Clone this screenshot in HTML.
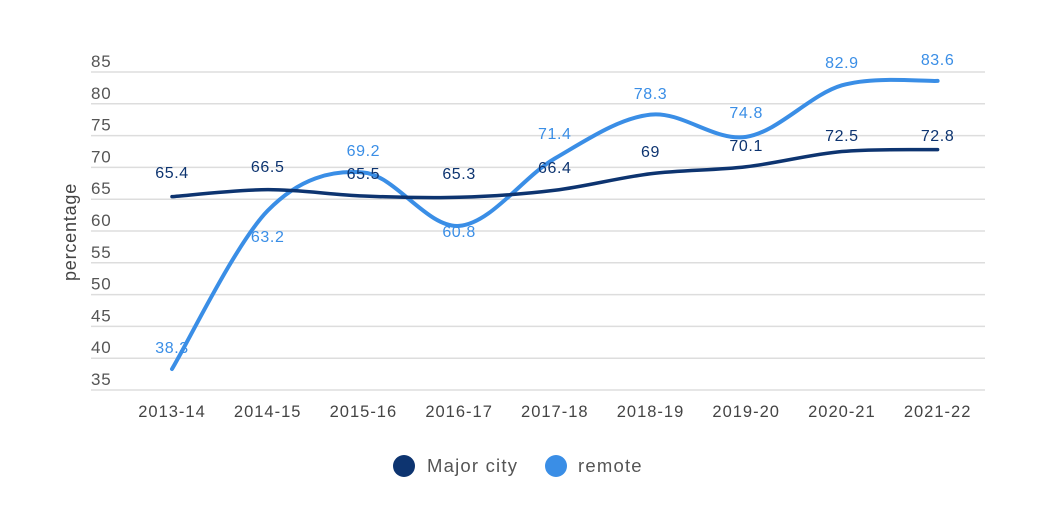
<!DOCTYPE html>
<html><head><meta charset="utf-8"><style>
html,body{margin:0;padding:0;background:#fff;}
svg{display:block;font-family:"Liberation Sans",sans-serif;}
</style></head><body>
<svg id="s" width="1048" height="527" viewBox="0 0 1048 527">
<g id="grid"></g>
<text x="76" y="232" transform="rotate(-90 76 232)" text-anchor="middle" font-size="18" letter-spacing="0.8" fill="#444">percentage</text>
<path id="remote" fill="none" stroke="#3a8ee6" stroke-width="4" stroke-linecap="round"/>
<path id="major" fill="none" stroke="#0d3470" stroke-width="3.5" stroke-linecap="round"/>
<g id="labels" font-size="16" letter-spacing="0.6" text-anchor="middle"></g>
<circle cx="404" cy="466" r="11" fill="#0d3470"/>
<text x="427" y="472" font-size="18.5" letter-spacing="1.2" fill="#555">Major city</text>
<circle cx="556" cy="466" r="11" fill="#3a8ee6"/>
<text x="578" y="472" font-size="18.5" letter-spacing="1.2" fill="#555">remote</text>
</svg>
<script>
var ns="http://www.w3.org/2000/svg";
function Y(v){return 390-(v-35)*6.36;}
var xs=[];for(var i=0;i<9;i++)xs.push(172+i*95.7);
var g=document.getElementById('grid');
for(var v=35;v<=85;v+=5){
 var y=Y(v);
 var l=document.createElementNS(ns,'line');
 l.setAttribute('x1',91);l.setAttribute('x2',985);l.setAttribute('y1',y);l.setAttribute('y2',y);
 l.setAttribute('stroke','#ddd');l.setAttribute('stroke-width','1.5');g.appendChild(l);
 var t=document.createElementNS(ns,'text');t.setAttribute('x',91);t.setAttribute('y',y-5);
 t.setAttribute('font-size','17');t.setAttribute('letter-spacing','0.8');t.setAttribute('fill','#555');t.textContent=v;g.appendChild(t);
}
var yrs=["2013-14","2014-15","2015-16","2016-17","2017-18","2018-19","2019-20","2020-21","2021-22"];
yrs.forEach(function(s,i){var t=document.createElementNS(ns,'text');t.setAttribute('x',xs[i]);t.setAttribute('y',417);
 t.setAttribute('font-size','16.5');t.setAttribute('letter-spacing','1');t.setAttribute('fill','#444');t.setAttribute('text-anchor','middle');t.textContent=s;g.appendChild(t);});
var maj=[65.4,66.5,65.5,65.3,66.4,69,70.1,72.5,72.8];
var rem=[38.3,63.2,69.2,60.8,71.4,78.3,74.8,82.9,83.6];
function path(d){var p=d.map(function(v,i){return [xs[i],Y(v)];});
 var s="M"+p[0][0]+","+p[0][1];
 for(var i=0;i<p.length-1;i++){var p0=p[i-1]||p[i],p1=p[i],p2=p[i+1],p3=p[i+2]||p[i+1];
  var c1=[p1[0]+(p2[0]-p0[0])/6,p1[1]+(p2[1]-p0[1])/6],c2=[p2[0]-(p3[0]-p1[0])/6,p2[1]-(p3[1]-p1[1])/6];
  s+=" C"+c1+" "+c2+" "+p2;}
 return s;}
document.getElementById('major').setAttribute('d',path(maj));
document.getElementById('remote').setAttribute('d',path(rem));
var L=document.getElementById('labels');
function lab(x,y,txt,c){var t=document.createElementNS(ns,'text');t.setAttribute('x',x);t.setAttribute('y',y);t.setAttribute('fill',c);t.textContent=txt;L.appendChild(t);}
var majY=[178,172,179,179,173,157,151,141,141];
maj.forEach(function(v,i){lab(xs[i],majY[i],v,"#0d3470");});
var remY=[353,242,156,237,139,99,118,68,65];
rem.forEach(function(v,i){lab(xs[i],remY[i],v,"#3a8ee6");});
</script>
</body></html>
